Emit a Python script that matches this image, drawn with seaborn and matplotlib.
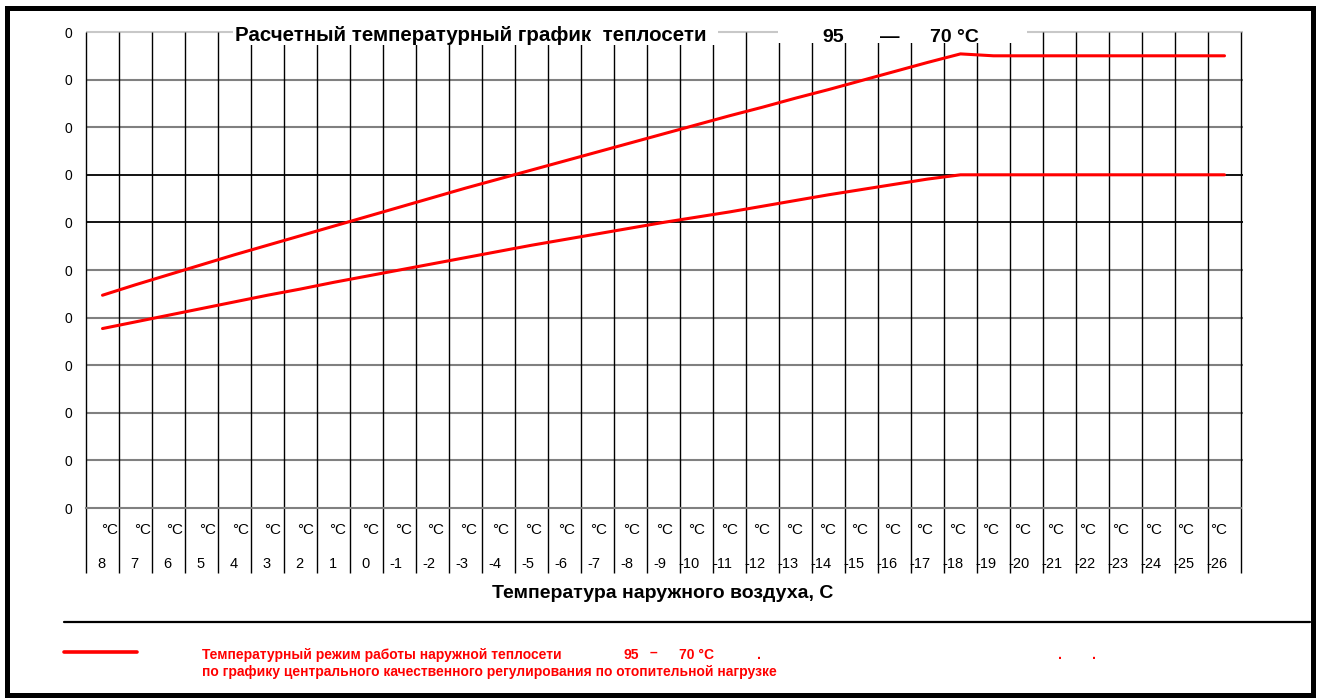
import matplotlib
matplotlib.use("Agg")
import matplotlib.pyplot as plt
from matplotlib.patches import Rectangle
from matplotlib.lines import Line2D
import numpy as np
import pandas as pd
import seaborn as sns

# outdoor air temperature, categories left to right
outdoor = [8, 7, 6, 5, 4, 3, 2, 1, 0, -1, -2, -3, -4, -5, -6, -7, -8, -9, -10,
           -11, -12, -13, -14, -15, -16, -17, -18, -19, -20, -21, -22, -23, -24, -25, -26]
# supply water temperature
supply = [44.7, 46.9, 49.0, 51.1, 53.2, 55.2, 57.2, 59.2, 61.2, 63.2, 65.2, 67.2,
          69.1, 71.0, 72.9, 74.8, 76.7, 78.6, 80.5, 82.4, 84.2, 86.1, 87.9, 89.8,
          91.7, 93.6, 95.4, 95.0, 95.0, 95.0, 95.0, 95.0, 95.0, 95.0, 95.0]
# return water temperature
ret = [37.7, 39.1, 40.5, 41.9, 43.3, 44.7, 46.0, 47.4, 48.7, 50.0, 51.3, 52.6,
       53.9, 55.2, 56.4, 57.6, 58.8, 60.0, 61.1, 62.2, 63.4, 64.6, 65.8, 66.9,
       68.0, 69.1, 70.0, 70.0, 70.0, 70.0, 70.0, 70.0, 70.0, 70.0, 70.0]
y_ticks = list(range(0, 101, 10))
y_labels = ["0"] * len(y_ticks)

sns.set_style("white")
plt.rcParams['font.family'] = ['Liberation Sans', 'DejaVu Sans']
plt.rcParams['text.color'] = 'black'
plt.rcParams['ytick.color'] = 'black'
plt.rcParams['xtick.color'] = 'black'

W, H = 1317, 698
fig = plt.figure(figsize=(W / 100, H / 100), dpi=100)


def fx(px):
    return px / W


def fy(py):
    return 1 - py / H


def dx(px):
    # pixel x -> data x (category i centred at i)
    return (px - 86) / 33 - 0.5


def white_box(x0, y0, x1, y1):
    fig.patches.append(Rectangle((fx(x0), fy(y1)), fx(x1) - fx(x0), fy(y0) - fy(y1),
                                 transform=fig.transFigure, facecolor="white",
                                 edgecolor="none", zorder=5))


ax = fig.add_axes([fx(86), fy(508), fx(1241) - fx(86), fy(32) - fy(508)])

pos = np.arange(len(outdoor))
df = pd.DataFrame({"pos": pos, "supply": supply, "ret": ret})
sns.lineplot(data=df, x="pos", y="supply", color="#FF0000", lw=2.2, ax=ax, zorder=4)
sns.lineplot(data=df, x="pos", y="ret", color="#FF0000", lw=2.2, ax=ax, zorder=4)

ax.set_xlim(-0.5, len(outdoor) - 0.5)
ax.set_ylim(0, 100)
ax.set_xlabel("")
ax.set_ylabel("")
ax.set_xticks([])
ax.set_yticks(y_ticks, y_labels)
ax.tick_params(axis="y", length=4, width=1, color="#808080", labelcolor="black", pad=6, labelsize=10)
for s in ["top", "right", "left"]:
    ax.spines[s].set_visible(False)
ax.spines["bottom"].set_color("#808080")
ax.spines["bottom"].set_linewidth(1.5)

# horizontal gridlines
for v in y_ticks[1:-1]:
    c = "black" if v in (60, 70) else "#808080"
    ax.hlines(v, -0.5, dx(1243), colors=c, lw=1.3 if c == "black" else 1.5, zorder=1, clip_on=False)
ax.hlines(100, -0.5, dx(1243), colors="#C8C8C8", lw=1.5, zorder=1, clip_on=False)

# category separators, running down through the label area
ax.vlines(np.arange(len(outdoor) + 1) - 0.5, -65 / 476, 1, transform=ax.get_xaxis_transform(),
          colors="black", lw=1.0, zorder=2, clip_on=False)

# two-row category labels
tr = ax.get_xaxis_transform()
for i, t in enumerate(outdoor):
    ax.text(i + (32.3 - 0.39 * i) / 33 - 0.5, -22 / 476, "°C", transform=tr,
            ha="right", va="center", fontsize=11, color="black")
    ax.text(i + 19.5 / 33 - 0.5, -56 / 476, str(t), transform=tr,
            ha="right", va="center", fontsize=10.5, color="black")

# title pieces (text boxes with white fill)
white_box(233, 12, 718, 45)
fig.text(fx(235), fy(40.7), "Расчетный температурный график  теплосети",
         ha="left", va="baseline", fontsize=14.8, fontweight="bold", color="black", zorder=6)
white_box(778, 12, 1027, 43)
fig.text(fx(822), fy(41.5), "95", ha="left", va="baseline", fontsize=14, fontweight="bold",
         color="black", zorder=6)
fig.text(fx(880), fy(41.5), "—", ha="left", va="baseline", fontsize=14, fontweight="bold",
         color="black", zorder=6)
fig.text(fx(930), fy(41.5), "70 °C", ha="left", va="baseline", fontsize=14, fontweight="bold",
         color="black", zorder=6)

fig.text(fx(663), fy(593), "Температура наружного воздуха, С", ha="center", va="center",
         fontsize=14, fontweight="bold", color="black")

# legend area
fig.lines.append(Line2D([fx(64), fx(1310)], [fy(621.5), fy(621.5)], transform=fig.transFigure,
                        color="black", lw=1.6))
fig.lines.append(Line2D([fx(64), fx(137)], [fy(651.5), fy(651.5)], transform=fig.transFigure,
                        color="#FF0000", lw=2.6))
red = "#FF0000"
leg_kw = dict(va="center", fontsize=10, fontweight="bold", color=red)
fig.text(fx(202), fy(655), "Температурный режим работы наружной теплосети", ha="left", **leg_kw)
fig.text(fx(623), fy(655), "95", ha="left", **leg_kw)
fig.text(fx(650), fy(653), "–", ha="left", **leg_kw)
fig.text(fx(679), fy(655), "70 °С", ha="left", **leg_kw)
for px in [757, 1058, 1092]:
    fig.text(fx(px), fy(655), ".", ha="left", **leg_kw)
fig.text(fx(202), fy(672), "по графику центрального качественного регулирования по отопительной нагрузке",
         ha="left", **leg_kw)

# outer frame
fig.patches.append(Rectangle((fx(6.5), fy(695)), fx(1312.5) - fx(6.5), fy(7.5) - fy(695),
                             transform=fig.transFigure, facecolor="none", edgecolor="black",
                             lw=3.6, zorder=10))

fig.savefig("out.png", dpi=100)
